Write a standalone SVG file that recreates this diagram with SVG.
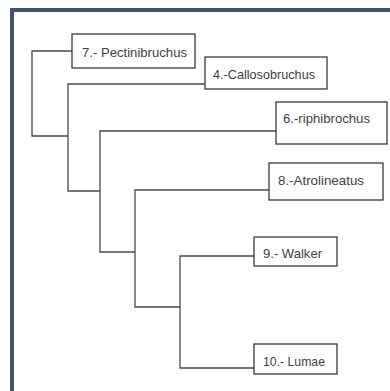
<svg xmlns="http://www.w3.org/2000/svg" width="390" height="391" viewBox="0 0 390 391">
<style>
.frame{fill:none;stroke:#44546a;stroke-width:4}
.box rect{fill:#fff;stroke:#3a3a3a;stroke-width:1.3}
.box text{font-family:"Liberation Sans",Arial,sans-serif;font-size:13.5px;fill:#404040}
#edges path{fill:none;stroke:#4a4a4a;stroke-width:1.3}
</style>
<rect width="390" height="391" fill="#fff"/>
<rect class="frame" x="12" y="10" width="400" height="400"/>
<g id="edges">
<path d="M72 51H32V136H68"/>
<path d="M205 84H68V191H100"/>
<path d="M276 131H100V252H135"/>
<path d="M269 190H135V307H180"/>
<path d="M254 256H180V368H254"/>
</g>
<g id="n7" class="box"><rect x="72" y="34" width="123" height="34"/><text x="82" y="57" textLength="105" lengthAdjust="spacingAndGlyphs">7.- Pectinibruchus</text></g>
<g id="n4" class="box"><rect x="205" y="57" width="122" height="32"/><text x="213" y="79" textLength="102" lengthAdjust="spacingAndGlyphs">4.-Callosobruchus</text></g>
<g id="n6" class="box"><rect x="276" y="102" width="111" height="42"/><text x="283" y="123" textLength="87" lengthAdjust="spacingAndGlyphs">6.-riphibrochus</text></g>
<g id="n8" class="box"><rect x="269" y="163" width="114" height="37"/><text x="278" y="185" textLength="86" lengthAdjust="spacingAndGlyphs">8.-Atrolineatus</text></g>
<g id="n9" class="box"><rect x="254" y="237" width="83" height="29"/><text x="263" y="258" textLength="59" lengthAdjust="spacingAndGlyphs">9.- Walker</text></g>
<g id="n10" class="box"><rect x="254" y="344" width="83" height="30"/><text x="263" y="366" textLength="62" lengthAdjust="spacingAndGlyphs">10.- Lumae</text></g>
</svg>
